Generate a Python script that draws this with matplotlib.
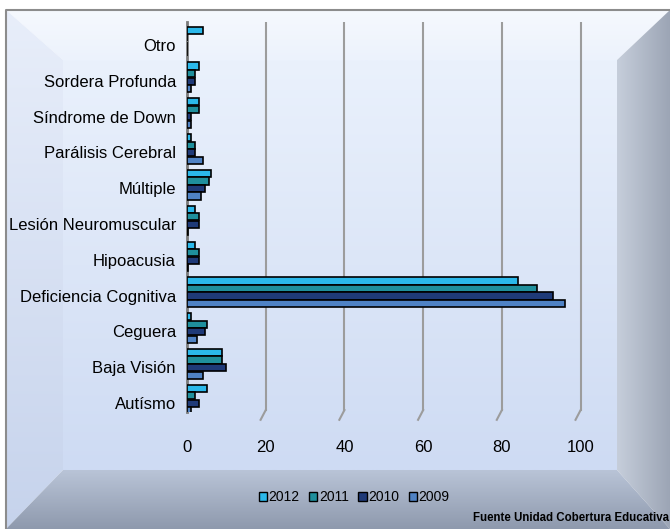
import numpy as np
import matplotlib
matplotlib.use('Agg')
import matplotlib.pyplot as plt
from matplotlib.patches import Polygon, Patch
from matplotlib.transforms import blended_transform_factory

plt.rcParams['font.family'] = ['Liberation Sans', 'DejaVu Sans']

categories = ['Autísmo', 'Baja Visión', 'Ceguera', 'Deficiencia Cognitiva', 'Hipoacusia',
              'Lesión Neuromuscular', 'Múltiple', 'Parálisis Cerebral', 'Síndrome de Down',
              'Sordera Profunda', 'Otro']
years = ['2012', '2011', '2010', '2009']
v2012 = [5, 9, 1, 84, 2, 2, 6, 1, 3, 3, 4]
v2011 = [2, 9, 5, 89, 3, 3, 5.5, 2, 3, 2, 0]
v2010 = [3, 10, 4.5, 93, 3, 3, 4.5, 2, 1, 2, 0]
v2009 = [1, 4, 2.5, 96, 0.3, 0.3, 3.5, 4, 1, 1, 0]
colors = ['#2bb8ea', '#1f8f9c', '#1f3a78', '#4f82c4']

W, H = 670, 529
fig = plt.figure(figsize=(W / 100, H / 100), dpi=100)

# beveled background, in pixel units
bg = fig.add_axes([0, 0, 1, 1], zorder=-10)
bg.set_xlim(0, W)
bg.set_ylim(H, 0)
bg.axis('off')
ox0, oy0, ox1, oy1 = 6, 10, W, H
ix0, iy0, ix1, iy1 = 63, 60, 617, 470


def grad_fill(poly, c_start, c_end, vertical=True):
    c0 = np.array(matplotlib.colors.to_rgb(c_start))
    c1 = np.array(matplotlib.colors.to_rgb(c_end))
    t = np.linspace(0, 1, 256)
    img = c0 + (c1 - c0) * t[:, None]
    if vertical:
        img = img[:, None, :]
    else:
        img = img[None, :, :]
    xs = [p[0] for p in poly]
    ys = [p[1] for p in poly]
    patch = Polygon(poly, closed=True, facecolor='none', edgecolor='none')
    bg.add_patch(patch)
    im = bg.imshow(img, extent=[min(xs), max(xs), max(ys), min(ys)], aspect='auto',
                   interpolation='bilinear')
    im.set_clip_path(patch)


grad_fill([(ox0, oy0), (ox1, oy0), (ix1, iy0), (ix0, iy0)], '#f6f9fe', '#ecf2fc')
grad_fill([(ox0, oy0), (ix0, iy0), (ix0, iy1), (ox0, oy1)], '#e8eefa', '#c6d3ec')
grad_fill([(ox1, oy0), (ox1, oy1), (ix1, iy1), (ix1, iy0)], '#c6cedb', '#9ca5b5', vertical=False)
grad_fill([(ox0, oy1), (ix0, iy1), (ix1, iy1), (ox1, oy1)], '#b9c4d7', '#8e99ad')
grad_fill([(ix0, iy0), (ix1, iy0), (ix1, iy1), (ix0, iy1)], '#eaf1fc', '#cedbf3')
bg.plot([ox0, ox0, ox1], [oy1, oy0, oy0], color='#8c8c8c', lw=1.5)

# chart
ax = fig.add_axes([187 / W, 1 - 412 / H, 433 / W, 390 / H])
ax.patch.set_alpha(0)
series = [v2012, v2011, v2010, v2009]
offsets = [0.41, 0.2, -0.01, -0.22]
y = np.arange(len(categories))
for vals, off, col in zip(series, offsets, colors):
    ax.barh(y + off, vals, height=0.2, color=col, edgecolor='black', linewidth=1.2, zorder=3)

ax.set_xlim(0, 110)
ax.set_ylim(-0.25, 10.64)
ax.set_xticks(range(0, 101, 20))
ax.set_yticks(y)
ax.set_yticklabels(categories)
ax.tick_params(axis='both', length=0, labelsize=12, colors='black')
ax.tick_params(axis='x', pad=20)
ax.tick_params(axis='y', pad=8)
for s in ['top', 'right', 'bottom']:
    ax.spines[s].set_visible(False)
ax.spines['left'].set_color('#7a7a7a')
ax.spines['left'].set_linewidth(2)
trans = blended_transform_factory(ax.transData, ax.transAxes)
for t in range(20, 101, 20):
    ax.plot([t, t], [0.005, 1.0], color='#9c9c9c', lw=1.5, transform=trans, zorder=1)
    ax.plot([t, t - 1.3], [0.005, -0.02], color='#9c9c9c', lw=1.5, transform=trans,
            zorder=1, clip_on=False)

handles = [Patch(facecolor=c, edgecolor='black', linewidth=1) for c in colors]
fig.legend(handles, years, loc='center left', bbox_to_anchor=(246 / W, 1 - 497 / H),
           ncol=4, frameon=False, fontsize=10, handlelength=0.6, handleheight=0.6,
           handletextpad=0.1, columnspacing=0.7)
fig.text(669 / W, 1 - 518 / H, 'Fuente Unidad Cobertura Educativa', ha='right', va='center',
         fontsize=8.3, fontweight='bold')

fig.savefig('out.png', dpi=100)
